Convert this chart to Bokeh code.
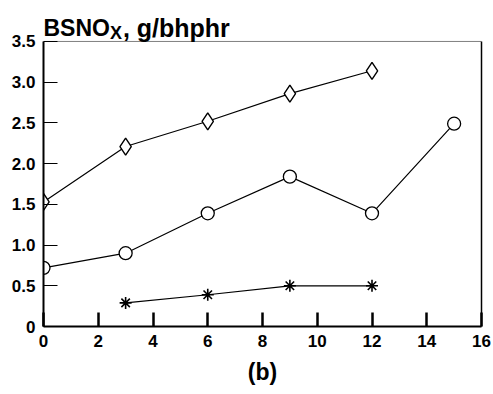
from bokeh.plotting import figure
from bokeh.models import Label, FixedTicker, Range1d, LinearAxis
from bokeh.embed import file_html
from bokeh.resources import INLINE

# data
x_diamond = [0, 3, 6, 9, 12]
y_diamond = [1.53, 2.21, 2.52, 2.86, 3.14]
x_circle = [0, 3, 6, 9, 12, 15]
y_circle = [0.72, 0.90, 1.39, 1.84, 1.39, 2.49]
x_star = [3, 6, 9, 12]
y_star = [0.29, 0.39, 0.50, 0.50]
x_ticks = [0, 2, 4, 6, 8, 10, 12, 14, 16]
y_ticks = [0, 0.5, 1.0, 1.5, 2.0, 2.5, 3.0, 3.5]
y_tick_labels = ["0", "0.5", "1.0", "1.5", "2.0", "2.5", "3.0", "3.5"]
title_main = "BSNO"
title_sub = "X"
title_rest = ", g/bhphr"
panel_label = "(b)"

FONT = "Liberation Sans"
X_MIN, X_MAX = x_ticks[0], x_ticks[-1]
Y_MIN, Y_MAX = y_ticks[0], y_ticks[-1]

p = figure(width=493, height=394, output_backend="svg", toolbar_location=None,
           x_range=Range1d(X_MIN, X_MAX), y_range=Range1d(Y_MIN, 4.003),
           min_border_left=43, min_border_right=12, min_border_top=0, min_border_bottom=68)
p.background_fill_color = "white"
p.border_fill_color = "white"
p.xgrid.visible = False
p.ygrid.visible = False
p.outline_line_color = None

for ax in (p.xaxis[0], p.yaxis[0]):
    ax.axis_line_color = "black"
    ax.axis_line_width = 2
    ax.major_tick_out = 0
    ax.major_tick_in = 14
    ax.minor_tick_line_color = None
    ax.major_label_text_font = FONT
    ax.major_label_text_font_style = "bold"
    ax.major_label_text_font_size = "17px"
    ax.major_label_text_color = "black"

p.xaxis[0].ticker = FixedTicker(ticks=x_ticks)
p.xaxis[0].major_tick_line_width = 2.5
p.xaxis[0].major_label_standoff = 8
p.xaxis[0].axis_label = panel_label
p.xaxis[0].axis_label_text_font = FONT
p.xaxis[0].axis_label_text_font_style = "bold"
p.xaxis[0].axis_label_text_font_size = "23px"
p.xaxis[0].axis_label_text_color = "black"
p.xaxis[0].axis_label_standoff = 9

p.yaxis[0].ticker = FixedTicker(ticks=y_ticks)
p.yaxis[0].bounds = (Y_MIN, Y_MAX)
p.yaxis[0].major_tick_line_width = 1
p.yaxis[0].major_label_standoff = 8
p.yaxis[0].major_label_overrides = {t: l for t, l in zip(y_ticks, y_tick_labels)}

# right frame line
right = LinearAxis(bounds=(Y_MIN, Y_MAX), ticker=FixedTicker(ticks=[]),
                   axis_line_color="black", axis_line_width=1.5,
                   major_tick_line_color=None, minor_tick_line_color=None,
                   major_label_text_font_size="0px")
p.add_layout(right, "right")
# top frame line
p.line([X_MIN, X_MAX], [Y_MAX, Y_MAX], line_color="black", line_width=1, line_alpha=0.5)

# series
p.line(x_diamond, y_diamond, line_color="black", line_width=1.2)
p.scatter(x_diamond, y_diamond, marker="diamond", size=17, fill_color="white",
          line_color="black", line_width=1.4)
p.line(x_circle, y_circle, line_color="black", line_width=1.2)
p.scatter(x_circle, y_circle, marker="circle", size=13, fill_color="white",
          line_color="black", line_width=1.3)
p.line(x_star, y_star, line_color="black", line_width=1.2)
p.scatter(x_star, y_star, marker="asterisk", size=12, line_color="black", line_width=1.6)

# title pieces
p.add_layout(Label(x=0.0, y=3.66, text=title_main, text_font=FONT, text_font_style="bold",
                   text_font_size="23px", text_baseline="alphabetic", text_color="black"))
p.add_layout(Label(x=2.43, y=3.61, text=title_sub, text_font=FONT, text_font_style="bold",
                   text_font_size="18px", text_baseline="alphabetic", text_color="black"))
p.add_layout(Label(x=2.9, y=3.66, text=title_rest, text_font=FONT, text_font_style="bold",
                   text_font_size="25px", text_baseline="alphabetic", text_color="black"))

open("out.html", "w").write(file_html(p, INLINE))
